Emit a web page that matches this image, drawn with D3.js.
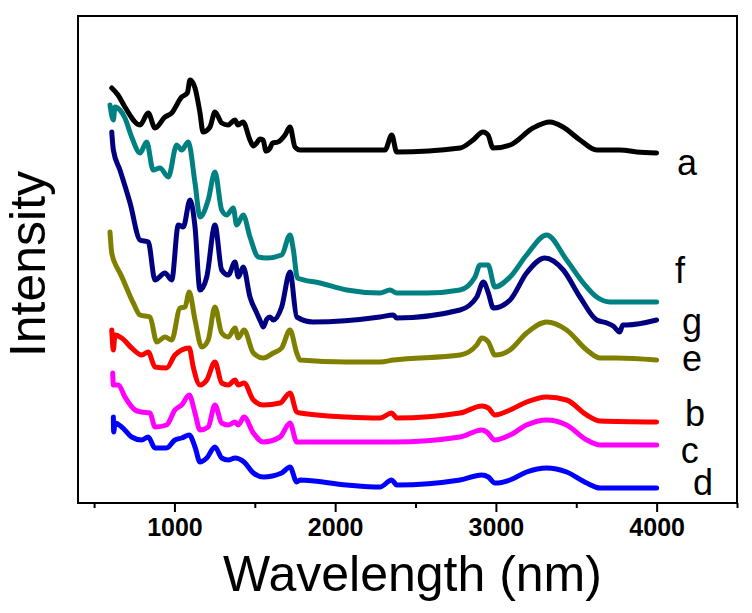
<!DOCTYPE html>
<html>
<head>
<meta charset="utf-8">
<script src="https://cdn.jsdelivr.net/npm/d3@7/dist/d3.min.js"></script>
<style>
  html, body { margin: 0; padding: 0; background: #fff; }
  svg { display: block; }
</style>
</head>
<body>
<svg id="chart" width="752" height="613"></svg>
<script>
// ---- data (wavelength in nm, intensity in a.u.) ----
const aWl = [610,649,692,786,837,879,941,983,1045,1080,1097,1128,1159,1178,1221,1252,1294,1333,1377,1395,1427,1470,1490,1512,1530,1551,1570,1595,1610,1644,1688,1719,1750,1781,1862,2154,2310,2352,2383,2777,2858,2920,2951,2982,3088,3231,3337,3417,3523,3627,3772,3876,4000];
const aVal = [415,408,396,378,390,375,386,390,406,410,423,415,390,371,376,391,380,378,383,378,381,363,357,360,364,363,352,355,360,361,368,376,356,353,353,353,353,368,351,355,363,371,368,355,358,375,381,376,363,353,353,351,350];

const fWl = [599,620,630,661,692,734,786,827,868,910,962,1014,1045,1086,1128,1159,1210,1252,1294,1325,1366,1387,1428,1470,1522,1574,1667,1719,1740,1765,1906,2072,2279,2341,2383,2570,2777,2870,2901,2951,2994,3088,3191,3316,3440,3544,3627,3710,4000];
const fVal = [398,383,396,393,385,366,350,361,333,335,326,358,353,361,320,286,303,331,293,288,295,278,288,266,246,245,248,268,253,225,220,213,210,213,210,210,213,226,238,238,216,226,248,268,243,220,206,201,201];

const gWl = [610,620,661,724,786,837,879,941,983,1024,1055,1097,1128,1159,1201,1252,1294,1335,1377,1397,1428,1470,1512,1540,1553,1575,1595,1615,1667,1719,1761,1862,2279,2362,2383,2777,2881,2922,2953,2984,3088,3191,3305,3419,3523,3627,3690,3730,3770,3790,3814,4000];
const gVal = [371,353,333,300,263,261,223,230,223,278,276,303,276,213,226,278,233,228,241,226,236,206,190,180,176,184,186,183,196,231,186,181,186,188,185,193,206,221,210,195,203,230,245,233,206,183,180,177,171,178,178,183];

const eWl = [599,610,641,661,744,786,848,890,941,983,1035,1066,1092,1128,1170,1210,1252,1294,1335,1377,1397,1433,1491,1553,1615,1667,1719,1761,1781,2072,2279,2362,2777,2881,2912,2953,2994,3088,3191,3316,3440,3565,3648,3752,4000];
const eVal = [271,250,236,230,200,188,186,161,166,163,195,196,211,183,156,163,196,170,166,175,165,173,150,145,150,155,173,150,143,141,141,143,148,158,165,161,148,153,170,181,173,153,145,145,143];

const bWl = [610,620,630,672,734,796,837,879,951,1003,1045,1092,1117,1159,1201,1252,1294,1335,1377,1397,1433,1491,1553,1657,1719,1761,1781,2072,2279,2352,2383,2777,2912,2953,2994,3088,3191,3316,3440,3565,3648,4000];
const bVal = [173,153,168,165,155,148,151,136,135,148,153,155,136,118,123,141,120,118,123,118,120,103,98,100,110,91,90,86,85,90,85,90,97,95,88,93,101,106,103,88,82,81];

const cWl = [616,620,651,692,755,796,848,879,951,1003,1045,1092,1128,1159,1210,1252,1294,1335,1377,1397,1433,1491,1553,1657,1719,1761,1781,2279,2362,2777,2912,2943,2994,3088,3191,3316,3440,3565,3648,4000];
const cVal = [130,118,118,106,93,91,90,76,78,93,98,108,90,73,76,98,80,78,81,78,86,70,61,66,80,61,61,61,61,66,73,71,63,68,78,83,78,63,58,58];

const dWl = [620,622,630,672,734,796,837,879,951,1003,1045,1092,1128,1159,1201,1252,1294,1335,1377,1433,1491,1553,1667,1719,1761,1781,2072,2279,2352,2383,2777,2912,2953,2994,3088,3191,3316,3440,3565,3648,4000];
const dVal = [86,71,80,76,66,63,66,55,55,63,65,68,56,41,45,56,45,43,45,41,30,26,30,36,21,23,18,16,23,18,23,28,26,20,23,31,35,31,20,15,15];

const seriesNames = ["a","f","g","e","b","c","d"];
const seriesWl = [aWl,fWl,gWl,eWl,bWl,cWl,dWl];
const seriesVal = [aVal,fVal,gVal,eVal,bVal,cVal,dVal];
const seriesColors = ["#000000","#008080","#000080","#808000","#ff0000","#ff00ff","#0000ff"];

// label positions (wavelength, intensity) for curve letters
const labelWl = [4127,4114,4158,4158,4176,4150,4226];
const labelVal = [328,220,169,132,77,40,8];

const xDomain = [400, 4500];
const yDomain = [0, 487];
const majorTicks = [1000,2000,3000,4000];
const minorTicks = [500,1500,2500,3500,4500];

// ---- layout ----
const W = 752, H = 613;
const m = {left: 78, right: 15, top: 16, bottom: 110};
const svg = d3.select("#chart");
const x = d3.scaleLinear().domain(xDomain).range([m.left, W - m.right]);
const y = d3.scaleLinear().domain(yDomain).range([H - m.bottom, m.top]);

const line = d3.line()
  .x(d => x(d[0])).y(d => y(d[1]))
  .curve(d3.curveMonotoneX);

seriesNames.forEach((n, i) => {
  const pts = seriesWl[i].map((w, j) => [w, seriesVal[i][j]]);
  svg.append("path")
    .datum(pts)
    .attr("d", line)
    .attr("fill", "none")
    .attr("stroke", seriesColors[i])
    .attr("stroke-width", 5)
    .attr("stroke-linejoin", "round")
    .attr("stroke-linecap", "round");
});

// frame
svg.append("rect")
  .attr("x", m.left).attr("y", m.top)
  .attr("width", W - m.left - m.right).attr("height", H - m.top - m.bottom)
  .attr("fill", "none").attr("stroke", "#000").attr("stroke-width", 2);

// bottom axis
const xAxis = svg.append("g").attr("transform", `translate(0,${H - m.bottom})`)
  .call(d3.axisBottom(x).tickValues(majorTicks).tickSize(9).tickPadding(6).tickFormat(d3.format("d")));
xAxis.select(".domain").remove();
xAxis.selectAll(".tick line").attr("stroke-width", 2);
xAxis.selectAll(".tick text")
  .attr("font-family", "'Liberation Sans', Arial, sans-serif")
  .attr("font-weight", "bold").attr("font-size", 25).attr("fill", "#000");

const xMinor = svg.append("g").attr("transform", `translate(0,${H - m.bottom})`)
  .call(d3.axisBottom(x).tickValues(minorTicks).tickSize(5).tickFormat(""));
xMinor.select(".domain").remove();
xMinor.selectAll(".tick line").attr("stroke-width", 2);

// axis titles
svg.append("text")
  .attr("x", (m.left + W - m.right) / 2 + 5).attr("y", 591)
  .attr("text-anchor", "middle")
  .attr("font-family", "'Liberation Sans', Arial, sans-serif")
  .attr("font-size", 50)
  .text("Wavelength (nm)");

svg.append("text")
  .attr("transform", `translate(45,264) rotate(-90)`)
  .attr("text-anchor", "middle")
  .attr("font-family", "'Liberation Sans', Arial, sans-serif")
  .attr("font-size", 50)
  .text("Intensity");

// curve letters
seriesNames.forEach((n, i) => {
  svg.append("text")
    .attr("x", x(labelWl[i])).attr("y", y(labelVal[i]))
    .attr("font-family", "'Liberation Sans', Arial, sans-serif")
    .attr("font-size", 36)
    .text(n);
});
</script>
</body>
</html>
